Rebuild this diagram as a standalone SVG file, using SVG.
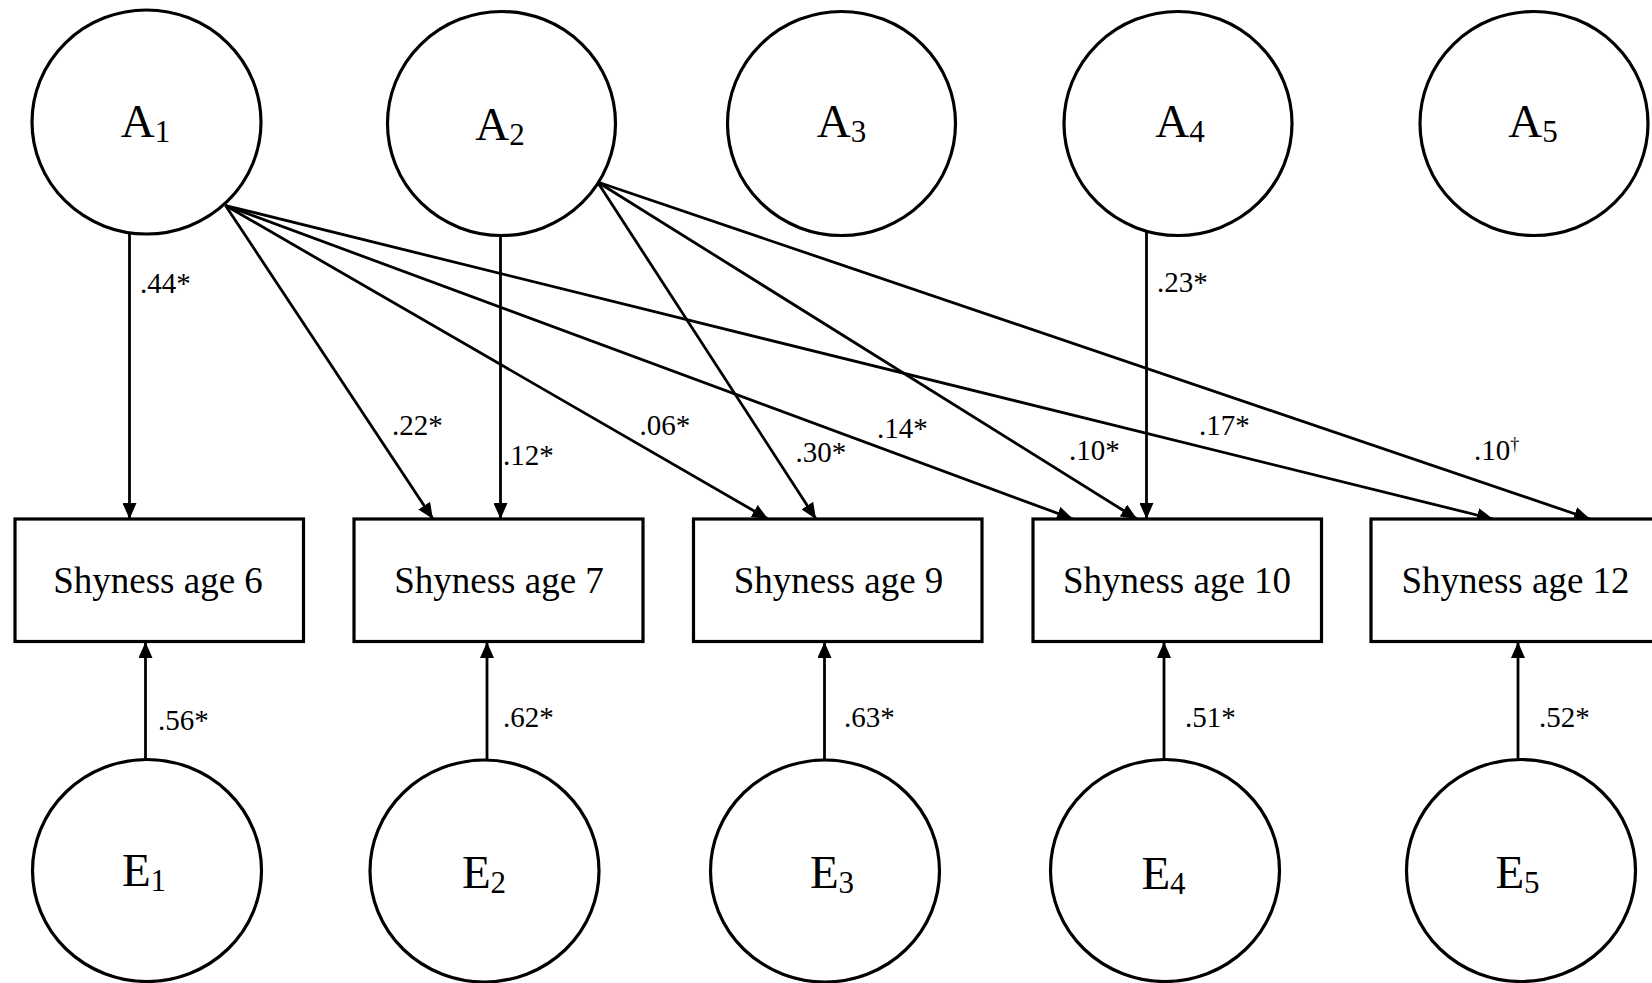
<svg xmlns="http://www.w3.org/2000/svg" width="1652" height="983" viewBox="0 0 1652 983">
  <defs>
    <marker id="arrow" markerUnits="userSpaceOnUse" markerWidth="16" markerHeight="14" viewBox="0 0 16 14" refX="16" refY="7" orient="auto">
      <path d="M0,0 L16,7 L0,14 Z" fill="#000"/>
    </marker>
    <style>
      .latent { fill: #fff; stroke: #000; stroke-width: 3.2; }
      .obs { fill: #fff; stroke: #000; stroke-width: 3.2; }
      .big { font-family: "Liberation Serif", "Times New Roman", serif; font-size: 47px; fill: #000; text-anchor: middle; }
      .sub { font-size: 31px; }
      .box-label { font-family: "Liberation Serif", "Times New Roman", serif; font-size: 37px; fill: #000; text-anchor: middle; }
      .coef { font-family: "Liberation Serif", "Times New Roman", serif; font-size: 29px; fill: #000; }
      .dag { font-size: 18px; }
      .path { stroke: #000; stroke-width: 2.8; fill: none; marker-end: url(#arrow); }
    </style>
  </defs>

  <rect x="0" y="0" width="1652" height="983" fill="#fff"/>

  <!-- connectors -->
  <g id="connectors">
    <!-- A1 paths -->
    <line class="path" x1="129.5" y1="232" x2="129.5" y2="519"/>
    <line class="path" x1="225.5" y1="205.5" x2="433" y2="519"/>
    <line class="path" x1="225.5" y1="205.5" x2="768" y2="519"/>
    <line class="path" x1="225.5" y1="205.5" x2="1073" y2="519"/>
    <line class="path" x1="225.5" y1="205.5" x2="1493" y2="519"/>
    <!-- A2 paths -->
    <line class="path" x1="500.5" y1="229" x2="500.5" y2="519"/>
    <line class="path" x1="597.5" y1="182" x2="816" y2="519"/>
    <line class="path" x1="597.5" y1="182" x2="1137" y2="519"/>
    <line class="path" x1="597.5" y1="182" x2="1590" y2="519"/>
    <!-- A4 path -->
    <line class="path" x1="1146.5" y1="231" x2="1146.5" y2="519"/>
    <!-- residual paths -->
    <line class="path" x1="145.5" y1="760" x2="145.5" y2="642"/>
    <line class="path" x1="487" y1="761" x2="487" y2="642"/>
    <line class="path" x1="824.5" y1="761" x2="824.5" y2="642"/>
    <line class="path" x1="1164" y1="761" x2="1164" y2="642"/>
    <line class="path" x1="1518" y1="760" x2="1518" y2="642"/>

    <!-- coefficients -->
    <text class="coef" x="140" y="293">.44*</text>
    <text class="coef" x="392" y="435">.22*</text>
    <text class="coef" x="503" y="465">.12*</text>
    <text class="coef" x="639.5" y="435">.06*</text>
    <text class="coef" x="795.5" y="462">.30*</text>
    <text class="coef" x="877" y="438">.14*</text>
    <text class="coef" x="1069" y="460">.10*</text>
    <text class="coef" x="1157" y="292">.23*</text>
    <text class="coef" x="1199" y="435">.17*</text>
    <text class="coef" x="1474" y="460">.10<tspan class="dag" dy="-10">†</tspan></text>
    <text class="coef" x="158" y="730">.56*</text>
    <text class="coef" x="503" y="727">.62*</text>
    <text class="coef" x="844" y="727">.63*</text>
    <text class="coef" x="1185" y="727">.51*</text>
    <text class="coef" x="1539" y="727">.52*</text>
  </g>

  <!-- additive genetic factors -->
  <g id="A1">
    <ellipse class="latent" cx="146.5" cy="122" rx="114.5" ry="112"/>
    <text class="big" x="145.5" y="137">A<tspan class="sub" dy="5">1</tspan></text>
  </g>
  <g id="A2">
    <ellipse class="latent" cx="501.5" cy="123.5" rx="114" ry="112"/>
    <text class="big" x="500" y="140">A<tspan class="sub" dy="5">2</tspan></text>
  </g>
  <g id="A3">
    <ellipse class="latent" cx="841.5" cy="123.5" rx="114" ry="112"/>
    <text class="big" x="841.5" y="137">A<tspan class="sub" dy="5">3</tspan></text>
  </g>
  <g id="A4">
    <ellipse class="latent" cx="1178" cy="123.5" rx="114" ry="112"/>
    <text class="big" x="1180" y="137">A<tspan class="sub" dy="5">4</tspan></text>
  </g>
  <g id="A5">
    <ellipse class="latent" cx="1534" cy="123.5" rx="114" ry="112"/>
    <text class="big" x="1533" y="137">A<tspan class="sub" dy="5">5</tspan></text>
  </g>

  <!-- observed shyness -->
  <g id="S6">
    <rect class="obs" x="15" y="519" width="288.5" height="122.5"/>
    <text class="box-label" x="158" y="593">Shyness age 6</text>
  </g>
  <g id="S7">
    <rect class="obs" x="354" y="519" width="289" height="122.5"/>
    <text class="box-label" x="499" y="593">Shyness age 7</text>
  </g>
  <g id="S9">
    <rect class="obs" x="693.5" y="519" width="288.5" height="122.5"/>
    <text class="box-label" x="838.5" y="593">Shyness age 9</text>
  </g>
  <g id="S10">
    <rect class="obs" x="1033" y="519" width="288.5" height="122.5"/>
    <text class="box-label" x="1177" y="593">Shyness age 10</text>
  </g>
  <g id="S12">
    <rect class="obs" x="1371" y="519" width="289" height="122.5"/>
    <text class="box-label" x="1515.5" y="593">Shyness age 12</text>
  </g>

  <!-- unique environment factors -->
  <g id="E1">
    <ellipse class="latent" cx="147" cy="870.5" rx="114.5" ry="111"/>
    <text class="big" x="144" y="886">E<tspan class="sub" dy="5">1</tspan></text>
  </g>
  <g id="E2">
    <ellipse class="latent" cx="484.5" cy="871" rx="114.5" ry="111"/>
    <text class="big" x="484" y="888">E<tspan class="sub" dy="5">2</tspan></text>
  </g>
  <g id="E3">
    <ellipse class="latent" cx="825" cy="871" rx="114.5" ry="111"/>
    <text class="big" x="832" y="888">E<tspan class="sub" dy="5">3</tspan></text>
  </g>
  <g id="E4">
    <ellipse class="latent" cx="1165" cy="870.5" rx="114.5" ry="111"/>
    <text class="big" x="1163.5" y="889">E<tspan class="sub" dy="5">4</tspan></text>
  </g>
  <g id="E5">
    <ellipse class="latent" cx="1521" cy="870.5" rx="114.5" ry="111"/>
    <text class="big" x="1517.5" y="888">E<tspan class="sub" dy="5">5</tspan></text>
  </g>
</svg>
